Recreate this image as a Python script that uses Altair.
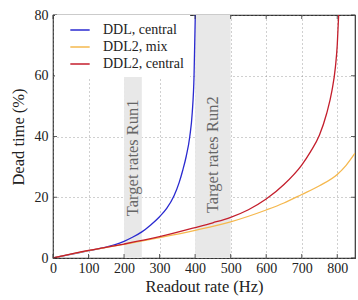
import altair as alt
import pandas as pd

# --- data ---
ddl_x = [0, 50, 100, 150, 175, 200, 225, 250, 275, 300, 320, 340, 355, 365, 375, 385, 392, 397, 400.5]
ddl_y = [0, 1.2, 2.4, 3.6, 4.4, 5.5, 6.9, 8.6, 10.9, 13.6, 16.3, 20.3, 24.8, 28.8, 33.5, 40, 48, 60, 80]

mix_x = [0, 100, 200, 300, 400, 500, 600, 650, 700, 750, 800, 825, 850]
mix_y = [0, 2.4, 4.5, 6.7, 9.1, 11.9, 15.8, 18.1, 20.9, 23.8, 27.5, 30.5, 34.5]

cen_x = [0, 100, 200, 300, 400, 450, 500, 550, 600, 650, 700, 725, 750, 770, 785, 795, 800, 804]
cen_y = [0, 2.5, 4.6, 7.0, 10.0, 11.6, 13.4, 15.9, 19.4, 24.2, 30.6, 35.0, 40.5, 47.5, 55, 63, 70, 80]

series_names = ["DDL, central", "DDL2, mix", "DDL2, central"]
series_colors = ["#2a2ad0", "#f5b84e", "#c41e2c"]

band_start = [200, 400]
band_end = [250, 500]
band_labels = ["Target rates Run1", "Target rates Run2"]
band_label_y = [33, 34]

x_ticks = [0, 100, 200, 300, 400, 500, 600, 700, 800]
y_ticks = [0, 20, 40, 60, 80]

FONT = "Liberation Serif"
W, H = 302, 243

rows = []
for name, xs, ys in zip(series_names, [ddl_x, mix_x, cen_x], [ddl_y, mix_y, cen_y]):
    for i, (a, b) in enumerate(zip(xs, ys)):
        rows.append({"series": name, "rate": a, "dt": b, "order": i})
lines_df = pd.DataFrame(rows)

bands_df = pd.DataFrame({"x0": band_start, "x1": band_end, "label": band_labels,
                         "xm": [(a + b) / 2 for a, b in zip(band_start, band_end)],
                         "ly": band_label_y})

xscale = alt.Scale(domain=[0, 850], nice=False, zero=False)
yscale = alt.Scale(domain=[0, 80], nice=False)

xaxis = alt.Axis(values=x_ticks, title="Readout rate (Hz)", titlePadding=3, labelPadding=3,
                 labelFont=FONT, titleFont=FONT)
yaxis = alt.Axis(values=y_ticks, title="Dead time (%)", titlePadding=8, labelPadding=5,
                 labelFont=FONT, titleFont=FONT)

bands = alt.Chart(bands_df).mark_rect(color="#e8e8e8").encode(
    x=alt.X("x0:Q", scale=xscale, axis=xaxis),
    x2="x1:Q",
    y=alt.value(0),
    y2=alt.value(H),
)

band_text = alt.Chart(bands_df).mark_text(angle=270, font=FONT, fontSize=16.5,
                                          color="#666666", baseline="middle",
                                          align="center").encode(
    x=alt.X("xm:Q", scale=xscale, axis=xaxis),
    y=alt.Y("ly:Q", scale=yscale, axis=yaxis),
    text="label:N",
)

lines = alt.Chart(lines_df).mark_line(strokeWidth=1.3, interpolate="monotone", clip=True).encode(
    x=alt.X("rate:Q", scale=xscale, axis=xaxis),
    y=alt.Y("dt:Q", scale=yscale, axis=yaxis),
    order="order:Q",
    color=alt.Color("series:N",
                    scale=alt.Scale(domain=series_names, range=series_colors),
                    sort=series_names,
                    legend=alt.Legend(title=None, orient="none", legendX=2, legendY=0,
                                      fillColor="white", padding=6,
                                      symbolType="M-1.2,0H1.2", symbolSize=260,
                                      symbolStrokeWidth=1.5, symbolOffset=10,
                                      labelOffset=14, rowPadding=1,
                                      labelLimit=200, labelFont=FONT)),
)

xt_df = pd.DataFrame({"v": x_ticks})
yt_df = pd.DataFrame({"v": y_ticks})
tick_color = "#333333"
xt_bottom = alt.Chart(xt_df).mark_rule(color=tick_color, strokeWidth=0.8).encode(
    x=alt.X("v:Q", scale=xscale, axis=xaxis), y=alt.value(H), y2=alt.value(H - 4))
xt_top = alt.Chart(xt_df).mark_rule(color=tick_color, strokeWidth=0.8).encode(
    x=alt.X("v:Q", scale=xscale, axis=xaxis), y=alt.value(0), y2=alt.value(4))
yt_left = alt.Chart(yt_df).mark_rule(color=tick_color, strokeWidth=0.8).encode(
    y=alt.Y("v:Q", scale=yscale, axis=yaxis), x=alt.value(0), x2=alt.value(4))
yt_right = alt.Chart(yt_df).mark_rule(color=tick_color, strokeWidth=0.8).encode(
    y=alt.Y("v:Q", scale=yscale, axis=yaxis), x=alt.value(W), x2=alt.value(W - 4))

chart = alt.layer(bands, band_text, lines, xt_bottom, xt_top, yt_left, yt_right).properties(
    width=W, height=H,
    padding={"left": 53, "top": 15, "right": 3, "bottom": 42},
    autosize=alt.AutoSizeParams(type="none"),
).configure(
    background="white", font=FONT,
    style={"guide-label": {"font": FONT, "fontSize": 14, "fill": "#222222"},
           "guide-title": {"font": FONT, "fontSize": 16.5, "fontWeight": "normal",
                           "fill": "#222222"}},
).configure_view(
    stroke="#333333", strokeWidth=1.2
).configure_axis(
    grid=True, gridDash=[1, 3], gridColor="#888888", gridWidth=0.8,
    domain=False, ticks=False, labelOverlap=False, labelFlush=False,
    labelFont=FONT, labelFontSize=14, labelColor="#222222",
    titleFont=FONT, titleFontSize=16.5, titleFontWeight="normal", titleColor="#222222",
).configure_legend(
    labelFont=FONT, labelFontSize=14, labelColor="#222222",
)

chart.save("out.html", embed_options={"renderer": "svg", "actions": False})
